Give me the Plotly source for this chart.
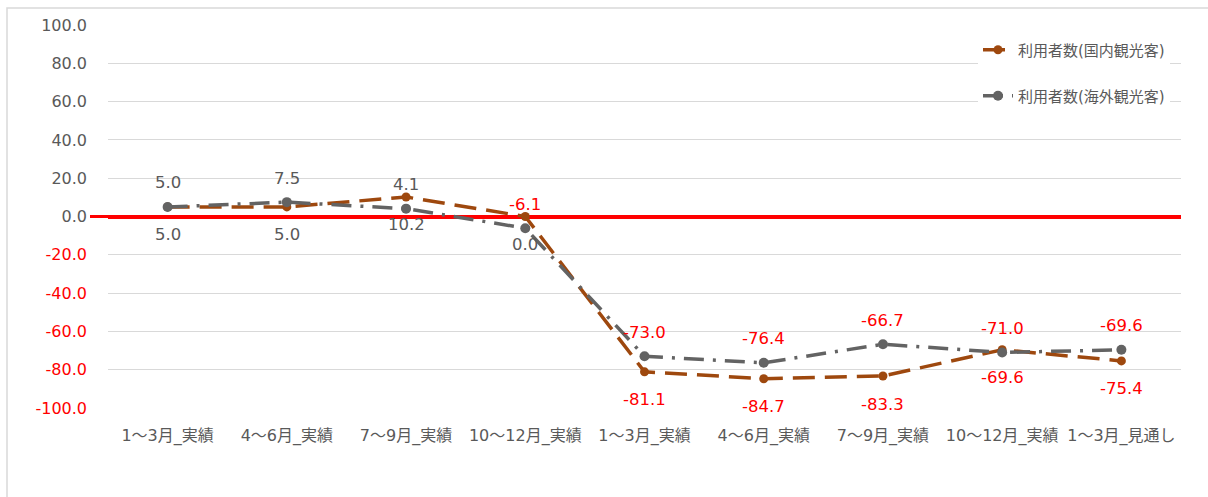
import plotly.graph_objects as go

# Quarterly change rates (%) for facility users
categories = ["1～3月_実績", "4～6月_実績", "7～9月_実績", "10～12月_実績",
              "1～3月_実績", "4～6月_実績", "7～9月_実績", "10～12月_実績", "1～3月_見通し"]
domestic = [5.0, 5.0, 10.2, 0.0, -81.1, -84.7, -83.3, -69.6, -75.4]
overseas = [5.0, 7.5, 4.1, -6.1, -73.0, -76.4, -66.7, -71.0, -69.6]
series_names = ["利用者数(国内観光客)", "利用者数(海外観光客)"]
y_ticks = [100, 80, 60, 40, 20, 0, -20, -40, -60, -80, -100]

BROWN = "#9E480E"
GRAY = "#636363"
TEXT_GRAY = "#595959"
RED = "#FF0000"
FONT = "DejaVu Sans, Noto Sans CJK JP"

W, H = 1208, 497
ML, MR, MT, MB = 108, 27, 25, 89
plot_w = W - ML - MR
plot_h = H - MT - MB

xs = list(range(len(categories)))


def px_x(p):
    return (p - ML) / plot_w


def px_y(p):
    return (H - MB - p) / plot_h


fig = go.Figure()
fig.add_trace(go.Scatter(
    x=xs, y=domestic, name=series_names[0], mode="lines+markers",
    line=dict(color=BROWN, width=3.5, dash="22px,10px"),
    marker=dict(color=BROWN, size=9),
    legend="legend",
))
fig.add_trace(go.Scatter(
    x=xs, y=overseas, name=series_names[1], mode="lines+markers",
    line=dict(color=GRAY, width=3.5, dash="20px,9px,3px,9px"),
    marker=dict(color=GRAY, size=10),
    legend="legend2",
))


def label_color(v):
    return RED if v < 0 else TEXT_GRAY


annotations = []
for i, v in enumerate(overseas):
    annotations.append(dict(x=i, y=v, xref="x", yref="y", text=f"{v:.1f}",
                            showarrow=False, yshift=24,
                            font=dict(family=FONT, size=16.5, color=label_color(v))))
for i, v in enumerate(domestic):
    annotations.append(dict(x=i, y=v, xref="x", yref="y", text=f"{v:.1f}",
                            showarrow=False, yshift=-28,
                            font=dict(family=FONT, size=16.5, color=label_color(v))))

tick_text = [f"<span style='color:{label_color(t)}'>{t:.1f}</span>" for t in y_ticks]

shapes = [
    # outer chart frame
    dict(type="rect", xref="paper", yref="paper",
         x0=px_x(7), x1=px_x(1215), y0=px_y(520), y1=px_y(8),
         line=dict(color="#D9D9D9", width=1.5), fillcolor="rgba(0,0,0,0)", layer="below"),
    # short stub of the zero line reaching past the plot's left edge
    dict(type="line", xref="paper", yref="y", x0=px_x(90), x1=0, y0=0, y1=0,
         line=dict(color=RED, width=3), layer="above"),
]

fig.update_layout(
    width=W, height=H,
    margin=dict(l=ML, r=MR, t=MT, b=MB),
    paper_bgcolor="white", plot_bgcolor="white",
    font=dict(family=FONT, color=TEXT_GRAY),
    xaxis=dict(
        range=[-0.5, len(categories) - 0.5],
        tickvals=xs, ticktext=categories,
        tickfont=dict(family=FONT, size=16, color=TEXT_GRAY),
        showgrid=False, zeroline=False, showline=False, ticks="",
        ticklabelstandoff=16,
    ),
    yaxis=dict(
        range=[-100, 100],
        tickvals=y_ticks, ticktext=tick_text,
        tickfont=dict(family=FONT, size=16, color=TEXT_GRAY),
        showgrid=True, gridcolor="#D9D9D9", gridwidth=1,
        zeroline=True, zerolinecolor=RED, zerolinewidth=3.5,
        showline=False, ticks="",
        ticklabelstandoff=20,
    ),
    legend=dict(x=px_x(978), y=px_y(50), xanchor="left", yanchor="middle",
                bgcolor="white", font=dict(family=FONT, size=15, color=TEXT_GRAY)),
    legend2=dict(x=px_x(978), y=px_y(96), xanchor="left", yanchor="middle",
                 bgcolor="white", font=dict(family=FONT, size=15, color=TEXT_GRAY)),
    annotations=annotations,
    shapes=shapes,
    showlegend=True,
)

fig.write_html("out.html")
